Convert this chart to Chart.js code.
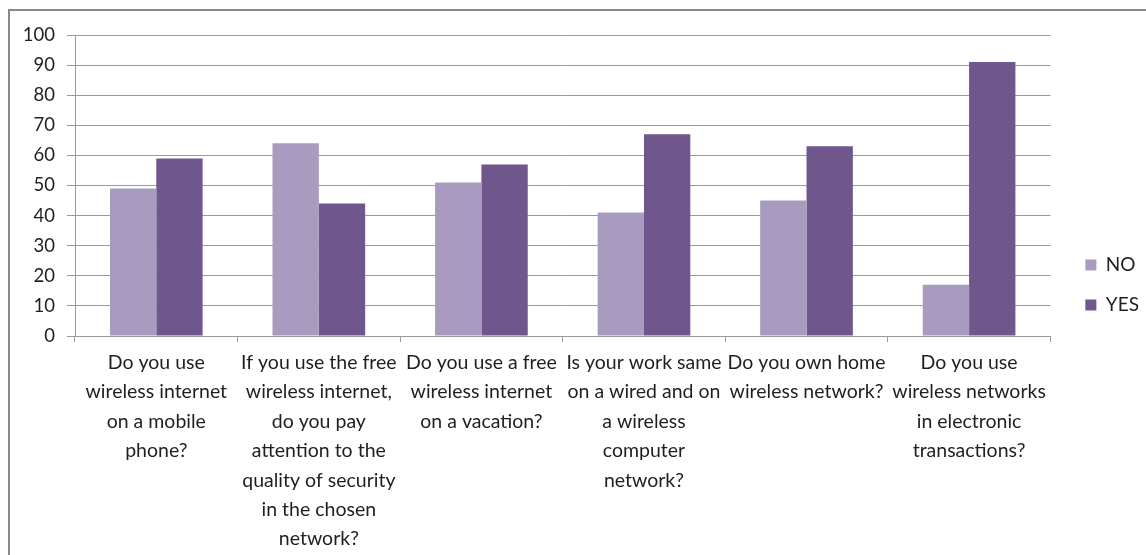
<!DOCTYPE html>
<html>
<head>
<meta charset="utf-8">
<script src="https://cdn.jsdelivr.net/npm/chart.js@4/dist/chart.umd.min.js"></script>
<style>
html,body{margin:0;padding:0;background:#fff;}
#wrap{position:absolute;left:0;top:0;width:1146px;height:555px;}
</style>
</head>
<body>
<div id="wrap"><canvas id="c" width="1146" height="555"></canvas></div>
<script>
const categories = [
  ["Do you use","wireless internet","on a mobile","phone?"],
  ["If you use the free","wireless internet,","do you pay","attention to the","quality of security","in the chosen","network?"],
  ["Do you use a free","wireless internet","on a vacation?"],
  ["Is your work same","on a wired and on","a wireless","computer","network?"],
  ["Do you own home","wireless network?"],
  ["Do you use","wireless networks","in electronic","transactions?"]
];
const noValues  = [49, 64, 51, 41, 45, 17];
const yesValues = [59, 44, 57, 67, 63, 91];
const yTicks = [0,10,20,30,40,50,60,70,80,90,100];

const FONT = 'Lato, "Open Sans", sans-serif';
const TEXT = '#1f1f1f';
const GRID = '#9a9a9a';

const framePlugin = {
  id: 'frame',
  beforeDraw(chart) {
    const ctx = chart.ctx;
    ctx.save();
    ctx.fillStyle = '#fff';
    ctx.fillRect(0, 0, chart.width, chart.height);
    ctx.strokeStyle = '#8a8a8a';
    ctx.lineWidth = 2;
    ctx.strokeRect(9, 10, 1160, 570);
    ctx.restore();
  }
};
const legendShift = {
  id: 'legendShift',
  afterLayout(chart) {
    const l = chart.legend;
    if (l) { l.left += 14; l.right += 14; l.top -= 10; l.bottom -= 10; }
  }
};

new Chart(document.getElementById('c'), {
  type: 'bar',
  data: {
    labels: categories,
    datasets: [
      { label: 'NO', data: noValues, backgroundColor: '#A99AC0', borderWidth: 0 },
      { label: 'YES', data: yesValues, backgroundColor: '#6F578E', borderWidth: 0 }
    ]
  },
  options: {
    responsive: false,
    animation: false,
    devicePixelRatio: 1,
    layout: { padding: { left: 0, top: 35, right: 11, bottom: 0 } },
    datasets: { bar: { categoryPercentage: 0.57, barPercentage: 1.0 } },
    plugins: {
      legend: {
        position: 'right',
        align: 'center',
        labels: {
          boxWidth: 11, boxHeight: 11, padding: 21,
          color: TEXT,
          font: { family: FONT, size: 19 }
        }
      },
      tooltip: { enabled: false },
      title: { display: false }
    },
    scales: {
      x: {
        offset: true,
        grid: { offset: true, drawOnChartArea: false, drawTicks: true, tickLength: 6, color: GRID },
        border: { color: GRID, width: 1 },
        ticks: {
          autoSkip: false, maxRotation: 0, minRotation: 0, padding: 6,
          color: TEXT, font: { family: FONT, size: 19.5, lineHeight: '29.4px' }
        },
        afterFit(s) { s.height = 219; }
      },
      y: {
        min: 0, max: 100,
        afterBuildTicks(s) { s.ticks = yTicks.map(v => ({ value: v })); },
        grid: { color: GRID, drawTicks: true, tickLength: 8 },
        border: { color: GRID, width: 1 },
        ticks: { padding: 12, color: TEXT, font: { family: FONT, size: 18.5 } },
        afterFit(s) { s.width = 75; }
      }
    }
  },
  plugins: [framePlugin, legendShift]
});
</script>
</body>
</html>
